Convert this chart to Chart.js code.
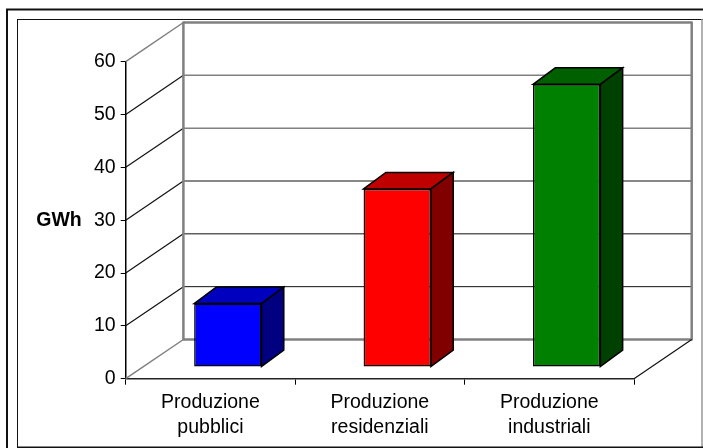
<!DOCTYPE html>
<html lang="it">
<head>
    <meta charset="UTF-8">
    <title>Produzione GWh</title>
    <script src="https://cdn.jsdelivr.net/npm/chart.js"></script>
    <style>
        html, body { margin: 0; padding: 0; background: #fff; }
        canvas { display: block; }
    </style>
</head>
<body>
    <canvas id="chart" width="703" height="448"></canvas>

    <script>
        // Data
        const categories = [['Produzione', 'pubblici'], ['Produzione', 'residenziali'], ['Produzione', 'industriali']];
        const values = [12, 33.7, 53.5];
        const yMin = 0;
        const yMax = 60;
        const yStep = 10;
        const yTitle = 'GWh';

        const frontColors = ['#0000ff', '#ff0000', '#008000'];
        const topColors = ['#0000bf', '#bf0000', '#006000'];
        const sideColors = ['#000080', '#800000', '#004000'];

        const FONT = '"Liberation Sans", Arial, sans-serif';
        const wall = { dx: 57.7, dy: -39.2 };   // front plane -> back wall
        const shift = { dx: 17.4, dy: -11.7 };  // front plane -> bar front face
        const depth = { dx: 22.3, dy: -16.5 };  // bar front face -> bar back face

        function line(ctx, x1, y1, x2, y2, color, width) {
            ctx.strokeStyle = color;
            ctx.lineWidth = width;
            ctx.beginPath();
            ctx.moveTo(x1, y1);
            ctx.lineTo(x2, y2);
            ctx.stroke();
        }

        function face(ctx, pts, color) {
            ctx.fillStyle = color;
            ctx.strokeStyle = '#000';
            ctx.lineWidth = 1.5;
            ctx.lineJoin = 'miter';
            ctx.beginPath();
            pts.forEach((p, i) => i ? ctx.lineTo(p[0], p[1]) : ctx.moveTo(p[0], p[1]));
            ctx.closePath();
            ctx.fill();
            ctx.stroke();
        }

        // Page frame, 3D walls and the axis title
        const wallsPlugin = {
            id: 'walls',
            beforeDraw(chart) {
                const ctx = chart.ctx;
                ctx.save();
                ctx.fillStyle = '#fff';
                ctx.fillRect(0, 0, chart.width, chart.height);
                line(ctx, 7, 448, 7, 9.5, '#111', 2);
                line(ctx, 6, 9.5, 703, 9.5, '#111', 2);
                line(ctx, 17.5, 447, 17.5, 19.5, '#111', 1);
                line(ctx, 17, 19.5, 703, 19.5, '#111', 1);
                line(ctx, 702, 19, 702, 447, '#999', 1.5);
                line(ctx, 17, 447.3, 703, 447.3, '#111', 1.5);
                ctx.restore();
            },
            beforeDatasetsDraw(chart) {
                const ctx = chart.ctx;
                const x = chart.scales.x;
                const y = chart.scales.y;
                const backL = x.left + wall.dx;
                const backR = x.right + wall.dx;
                ctx.save();
                y.ticks.forEach(t => {
                    const py = y.getPixelForValue(t.value);
                    const edge = t.value === yMin || t.value === yMax;
                    const light = edge || t.value >= 40;
                    const col = light ? '#808080' : '#111';
                    const w = edge ? 2.5 : (light ? 1.5 : 1);
                    line(ctx, backL, py + wall.dy, backR, py + wall.dy, col, w);
                    line(ctx, x.left, py, backL, py + wall.dy, edge ? '#808080' : '#111', edge ? 1.5 : 1.2);
                });
                line(ctx, backL, y.top + wall.dy - 1, backL, y.bottom + wall.dy + 1, '#808080', 2.5);
                line(ctx, backR, y.top + wall.dy - 1, backR, y.bottom + wall.dy + 1, '#808080', 2.5);
                line(ctx, x.right, y.bottom, backR, y.bottom + wall.dy, '#111', 1.2);

                ctx.fillStyle = '#000';
                ctx.font = 'bold 19.5px ' + FONT;
                ctx.textAlign = 'center';
                ctx.textBaseline = 'middle';
                ctx.fillText(yTitle, 59, y.getPixelForValue(30));
                ctx.restore();
            },
            // bars sit inside the box, so move them off the front plane
            beforeDatasetDraw(chart, args) {
                const ctx = chart.ctx;
                ctx.save();
                ctx.translate(shift.dx, shift.dy);
                args.meta.data.forEach((bar, i) => {
                    const l = bar.x - bar.width / 2;
                    const r = bar.x + bar.width / 2;
                    face(ctx, [[l, bar.y], [l + depth.dx, bar.y + depth.dy], [r + depth.dx, bar.y + depth.dy], [r, bar.y]], topColors[i]);
                    face(ctx, [[r, bar.y], [r + depth.dx, bar.y + depth.dy], [r + depth.dx, bar.base + depth.dy], [r, bar.base]], sideColors[i]);
                });
            },
            afterDatasetDraw(chart) {
                chart.ctx.restore();
            }
        };

        new Chart(document.getElementById('chart').getContext('2d'), {
            type: 'bar',
            data: {
                labels: categories,
                datasets: [{
                    data: values,
                    backgroundColor: frontColors,
                    borderColor: '#000',
                    borderWidth: 1.5,
                    borderSkipped: false,
                    categoryPercentage: 1,
                    barPercentage: 0.3975,
                    clip: false
                }]
            },
            options: {
                responsive: false,
                animation: false,
                layout: { padding: { left: 0, right: 69, top: 61.7, bottom: 0 } },
                plugins: { legend: { display: false }, tooltip: { enabled: false } },
                scales: {
                    x: {
                        afterFit: s => { s.height = 69.3; },
                        grid: { drawOnChartArea: false, color: '#000', tickLength: 6, lineWidth: 1 },
                        border: { color: '#222', width: 1.5 },
                        ticks: {
                            color: '#000',
                            maxRotation: 0,
                            autoSkip: false,
                            padding: 5,
                            font: { family: FONT, size: 19.5, lineHeight: 1.28 }
                        }
                    },
                    y: {
                        min: yMin,
                        max: yMax,
                        afterFit: s => { s.width = 125.7; },
                        grid: { drawOnChartArea: false, color: '#000', tickLength: 5, lineWidth: 1 },
                        border: { color: '#000', width: 1.5 },
                        ticks: {
                            stepSize: yStep,
                            color: '#000',
                            padding: 5,
                            font: { family: FONT, size: 19.5 }
                        }
                    }
                }
            },
            plugins: [wallsPlugin]
        });
    </script>
</body>
</html>
